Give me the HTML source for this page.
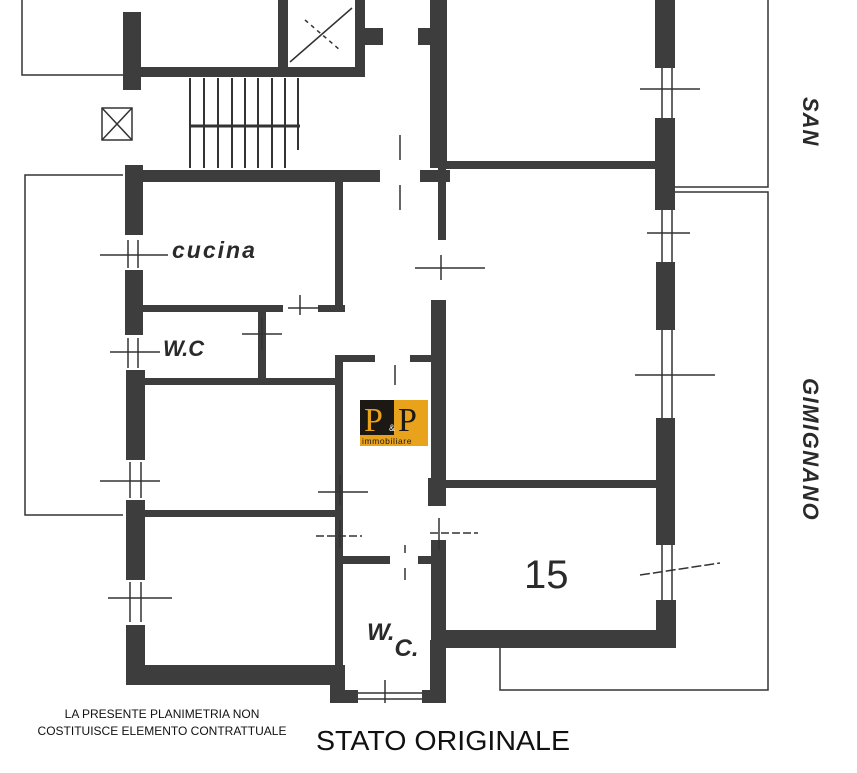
<!DOCTYPE html>
<html><head><meta charset="utf-8"><style>
html,body{margin:0;padding:0;background:#fff;}
svg{display:block;}
</style></head><body>
<svg width="857" height="773" viewBox="0 0 857 773" xmlns="http://www.w3.org/2000/svg">
<rect width="857" height="773" fill="#fff"/>
<g fill="#3d3d3d">
<!-- left outer wall -->
<rect x="123" y="12" width="18" height="78"/>
<rect x="125" y="165" width="18" height="70"/>
<rect x="125" y="270" width="18" height="65"/>
<rect x="126" y="370" width="19" height="90"/>
<rect x="126" y="500" width="19" height="80"/>
<rect x="126" y="625" width="19" height="60"/>
<!-- bottom -->
<rect x="126" y="665" width="215" height="20"/>
<rect x="330" y="665" width="15" height="38"/>
<rect x="330" y="690" width="28" height="13"/>
<rect x="422" y="690" width="24" height="13"/>
<rect x="430" y="640" width="16" height="63"/>
<rect x="440" y="630" width="235" height="18"/>
<!-- right outer wall -->
<rect x="655" y="0" width="20" height="68"/>
<rect x="655" y="118" width="20" height="92"/>
<rect x="656" y="262" width="19" height="68"/>
<rect x="656" y="418" width="19" height="127"/>
<rect x="656" y="600" width="20" height="48"/>
<!-- central vertical wall -->
<rect x="430" y="0" width="17" height="168"/>
<rect x="438" y="168" width="8" height="72"/>
<rect x="431" y="300" width="15" height="205"/>
<rect x="431" y="540" width="15" height="100"/>
<!-- right horizontal walls -->
<rect x="446" y="161" width="210" height="8"/>
<rect x="446" y="480" width="210" height="8"/>
<!-- stair block -->
<rect x="140" y="67" width="225" height="10"/>
<rect x="278" y="0" width="10" height="77"/>
<rect x="355" y="0" width="10" height="77"/>
<rect x="363" y="28" width="20" height="17"/>
<rect x="418" y="28" width="14" height="17"/>
<rect x="125" y="170" width="255" height="12"/>
<rect x="420" y="170" width="30" height="12"/>
<!-- cucina / wc -->
<rect x="335" y="182" width="8" height="128"/>
<rect x="143" y="305" width="140" height="7"/>
<rect x="318" y="305" width="27" height="7"/>
<rect x="258" y="312" width="8" height="70"/>
<rect x="143" y="378" width="197" height="7"/>
<!-- corridor -->
<rect x="335" y="355" width="8" height="310"/>
<rect x="335" y="355" width="40" height="7"/>
<rect x="410" y="355" width="25" height="7"/>
<rect x="143" y="510" width="197" height="7"/>
<rect x="340" y="556" width="50" height="8"/>
<rect x="418" y="556" width="20" height="8"/>
<rect x="428" y="478" width="18" height="28"/>
</g>
<g stroke="#333" stroke-width="1.5" fill="none">
<!-- outer thin lines -->
<polyline points="22,0 22,75 123,75"/>
<polyline points="123,175 25,175 25,515 123,515"/>
<polyline points="768,0 768,187 675,187"/>
<polyline points="675,192 768,192 768,690 500,690 500,648"/>
<!-- stairs -->
<g stroke-width="2">
<line x1="190" y1="78" x2="190" y2="168"/><line x1="204" y1="78" x2="204" y2="168"/>
<line x1="218" y1="78" x2="218" y2="168"/><line x1="232" y1="78" x2="232" y2="168"/>
<line x1="245" y1="78" x2="245" y2="168"/><line x1="258" y1="78" x2="258" y2="168"/>
<line x1="272" y1="78" x2="272" y2="168"/><line x1="285" y1="78" x2="285" y2="168"/>
<line x1="298" y1="78" x2="298" y2="150"/>
<line x1="190" y1="126" x2="300" y2="126" stroke-width="3"/>
</g>
<!-- elevator -->
<line x1="290" y1="62" x2="352" y2="8"/><line x1="305" y1="20" x2="340" y2="50" stroke-dasharray="4,4"/>
<rect x="102" y="108" width="30" height="32"/><line x1="102" y1="108" x2="132" y2="140"/><line x1="102" y1="140" x2="132" y2="108"/>
<!-- window/door ticks -->
<line x1="100" y1="255" x2="168" y2="255"/><line x1="128" y1="240" x2="128" y2="268"/><line x1="138" y1="240" x2="138" y2="268"/>
<line x1="110" y1="352" x2="160" y2="352"/><line x1="128" y1="338" x2="128" y2="368"/><line x1="138" y1="338" x2="138" y2="368"/>
<line x1="100" y1="481" x2="160" y2="481"/><line x1="130" y1="462" x2="130" y2="498"/><line x1="141" y1="462" x2="141" y2="498"/>
<line x1="108" y1="598" x2="172" y2="598"/><line x1="130" y1="582" x2="130" y2="622"/><line x1="141" y1="582" x2="141" y2="622"/>
<line x1="242" y1="334" x2="282" y2="334"/><line x1="262" y1="318" x2="262" y2="350"/>
<line x1="288" y1="308" x2="320" y2="308"/><line x1="300" y1="295" x2="300" y2="315"/>
<line x1="318" y1="492" x2="368" y2="492"/><line x1="340" y1="475" x2="340" y2="505"/>
<line x1="316" y1="536" x2="362" y2="536" stroke-dasharray="8,3"/><line x1="340" y1="520" x2="340" y2="548"/>
<line x1="430" y1="533" x2="478" y2="533" stroke-dasharray="8,3"/><line x1="439" y1="518" x2="439" y2="550"/>
<line x1="415" y1="268" x2="485" y2="268"/><line x1="441" y1="255" x2="441" y2="280"/>
<line x1="640" y1="89" x2="700" y2="89"/><line x1="647" y1="233" x2="690" y2="233"/>
<line x1="635" y1="375" x2="715" y2="375"/><line x1="640" y1="575" x2="720" y2="563" stroke-dasharray="10,3"/>
<line x1="662" y1="68" x2="662" y2="118"/><line x1="672" y1="68" x2="672" y2="118"/>
<line x1="662" y1="210" x2="662" y2="262"/><line x1="672" y1="210" x2="672" y2="262"/>
<line x1="662" y1="330" x2="662" y2="418"/><line x1="672" y1="330" x2="672" y2="418"/>
<line x1="662" y1="545" x2="662" y2="600"/><line x1="672" y1="545" x2="672" y2="600"/>
<line x1="358" y1="693" x2="422" y2="693"/><line x1="358" y1="699" x2="422" y2="699"/><line x1="385" y1="680" x2="385" y2="703"/>
<line x1="400" y1="135" x2="400" y2="160"/><line x1="400" y1="185" x2="400" y2="210"/>
<line x1="395" y1="365" x2="395" y2="385"/><line x1="405" y1="545" x2="405" y2="553"/><line x1="405" y1="568" x2="405" y2="580"/>
</g>
<!-- logo -->
<rect x="360" y="400" width="34" height="35" fill="#1c1915"/>
<rect x="394" y="400" width="34" height="35" fill="#e9a21c"/>
<rect x="360" y="435" width="68" height="11" fill="#e9a21c"/>
<text x="364" y="431" font-family="Liberation Serif,serif" font-size="34" fill="#e9a21c">P</text>
<text x="398" y="431" font-family="Liberation Serif,serif" font-size="34" fill="#1c1915">P</text>
<text x="389" y="431" font-family="Liberation Sans,sans-serif" font-size="9" fill="#fff">&amp;</text>
<text x="362" y="444" font-family="Liberation Sans,sans-serif" font-size="8.5" fill="#1c1915" letter-spacing="0.6">immobiliare</text>
<!-- labels -->
<g font-family="Liberation Sans,sans-serif" font-weight="bold" font-style="italic" fill="#2a2a2a">
<text x="172" y="258" font-size="23" letter-spacing="2">cucina</text>
<text x="163" y="356" font-size="22">W.C</text>
<text x="367" y="640" font-size="24">W.<tspan dy="16">C.</tspan></text>
</g>
<text x="524" y="588" font-family="Liberation Sans,sans-serif" font-size="40" fill="#2a2a2a">15</text>
<g font-family="Liberation Sans,sans-serif" font-weight="bold" font-style="italic" font-size="22" fill="#2a2a2a">
<text transform="translate(803,97) rotate(90)" letter-spacing="1">SAN</text>
<text transform="translate(803,378) rotate(90)" letter-spacing="1.5">GIMIGNANO</text>
</g>
<g font-family="Liberation Sans,sans-serif" fill="#111">
<text x="162" y="718" font-size="12" text-anchor="middle">LA PRESENTE PLANIMETRIA NON</text>
<text x="162" y="735" font-size="12" text-anchor="middle">COSTITUISCE ELEMENTO CONTRATTUALE</text>
<text x="316" y="750" font-size="28" textLength="254" lengthAdjust="spacingAndGlyphs">STATO ORIGINALE</text>
</g>
</svg>
</body></html>
